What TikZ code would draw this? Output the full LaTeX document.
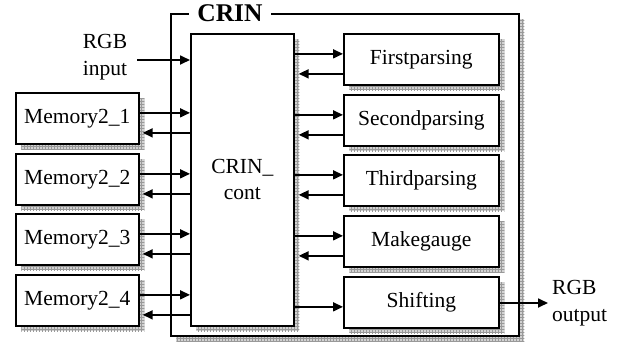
\documentclass[tikz,border=0pt]{standalone}
\usepackage{fontspec}
\setmainfont{Liberation Serif}
\usetikzlibrary{arrows.meta,shadows,patterns}
\begin{document}
\begin{tikzpicture}[x=1pt,y=-1pt,
  shade box/.style={
    general shadow={shadow xshift=5.5pt,shadow yshift=-5.5pt,fill=gray!35},
    general shadow={shadow xshift=5.5pt,shadow yshift=-5.5pt,pattern=grid,pattern color=gray!80}},
  blk/.style={shade box,draw,fill=white,line width=1.7pt,anchor=north west,inner sep=0pt,
    font=\fontsize{21.5}{26}\selectfont,align=center},
  mem/.style={blk,minimum width=123pt,minimum height=51pt},
  stage/.style={blk,minimum width=155pt,minimum height=51pt},
  arr/.style={line width=1.7pt,-{Triangle[length=10pt,width=9pt]}},
  lbl/.style={font=\fontsize{21.5}{27}\selectfont,inner sep=0pt}]
\useasboundingbox (0,0) rectangle (630,341);

% enclosing CRIN block and its title
\node[blk,minimum width=348pt,minimum height=322pt] (crin) at (170,13) {};
\node[fill=white,font=\fontsize{25.5}{28}\bfseries,inner xsep=8pt,inner ysep=0pt] (title) at (230,13) {CRIN};

% controller
\node[blk,minimum width=103pt,minimum height=292pt] (cont) at (190,33) {CRIN\_\\cont};

% memories
\node[mem] (m1) at (15,92)  {Memory2\_1};
\node[mem] (m2) at (15,153) {Memory2\_2};
\node[mem] (m3) at (15,213) {Memory2\_3};
\node[mem] (m4) at (15,274) {Memory2\_4};

% processing stages
\node[stage] (s1) at (343,33)  {Firstparsing};
\node[stage] (s2) at (343,94)  {Secondparsing};
\node[stage] (s3) at (343,154) {Thirdparsing};
\node[stage] (s4) at (343,215) {Makegauge};
\node[stage] (s5) at (343,276) {Shifting};

% external labels
\node[lbl,align=center] (rgbin) at (105,57) {RGB\\input};
\node[lbl,align=left,anchor=west] (rgbout) at (552,303) {RGB\\output};
\coordinate (inend) at (137,60);
\coordinate (outend) at (548,303);

% input to controller
\draw[arr] (inend) -- (inend -| cont.west);

% memory links: request in, data back (ending on the shadow edge)
\foreach \m in {m1,m2,m3,m4}{
  \draw[arr] ([yshift=5.5pt]\m.east) -- ([yshift=5.5pt]\m.east -| cont.west);
  \draw[arr] ([yshift=-14.5pt]\m.east -| cont.west) -- ([yshift=-14.5pt,xshift=3pt]\m.east);
}

% stage links
\foreach \s in {s1,s2,s3,s4}{
  \draw[arr] ([yshift=5.5pt]\s.west -| cont.east) -- ([yshift=5.5pt]\s.west);
  \draw[arr] ([yshift=-14.5pt]\s.west) -- ([yshift=-14.5pt,xshift=4pt]\s.west -| cont.east);
}
\draw[arr] ([yshift=-4.5pt]s5.west -| cont.east) -- ([yshift=-4.5pt]s5.west);

% output
\draw[arr] (outend -| s5.east) -- (outend);
\end{tikzpicture}
\end{document}
